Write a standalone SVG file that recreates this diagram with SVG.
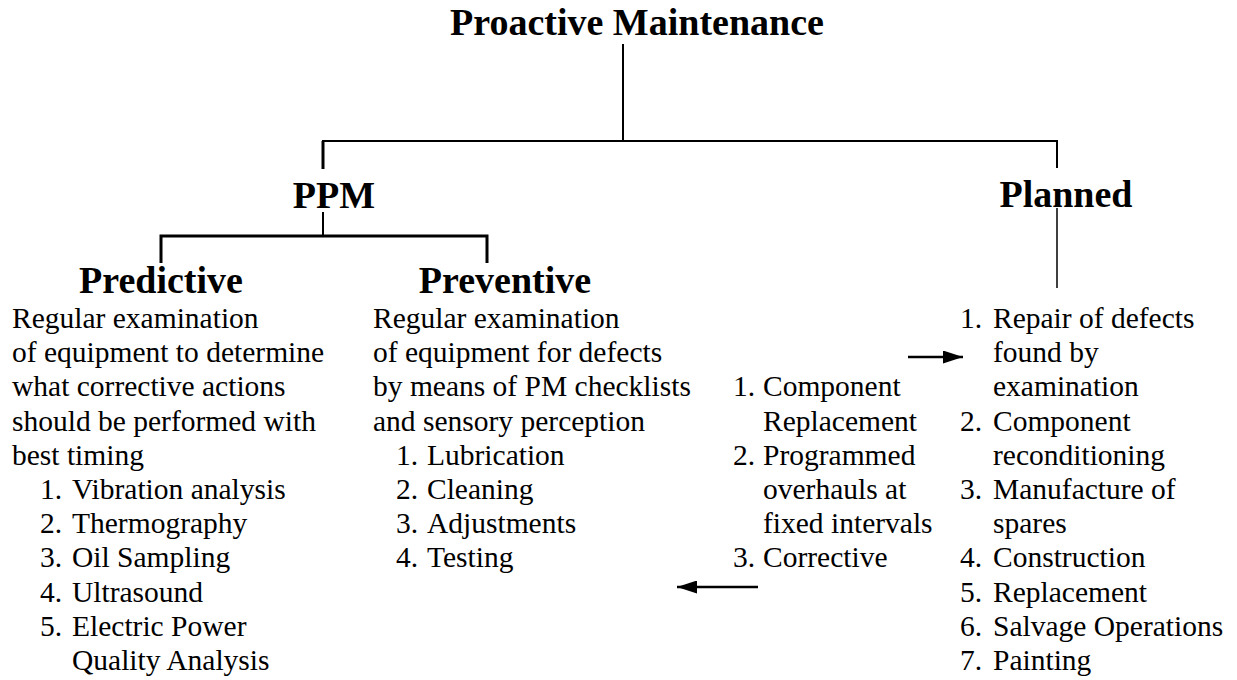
<svg xmlns="http://www.w3.org/2000/svg" width="1237" height="680" viewBox="0 0 1237 680">
<style>
.h{font-family:"Liberation Serif","Times New Roman",serif;font-weight:bold;font-size:38px;fill:#000}
.t{font-family:"Liberation Serif","Times New Roman",serif;font-size:29.5px;fill:#000}
.ln{stroke:#000;fill:none}
</style>
<defs>
<marker id="ah" viewBox="0 0 20 13" refX="20" refY="6.5" markerWidth="20" markerHeight="13" markerUnits="userSpaceOnUse" orient="auto">
<path d="M0,0 L20,6.5 L0,13 z" fill="#000"/>
</marker>
</defs>
<rect width="1237" height="680" fill="#fff"/>
<g id="connectors">
<line class="ln" x1="623" y1="44" x2="623" y2="141" stroke-width="2"/>
<line class="ln" x1="322" y1="141" x2="1058" y2="141" stroke-width="2"/>
<line class="ln" x1="323" y1="141" x2="323" y2="169" stroke-width="3"/>
<line class="ln" x1="1057" y1="141" x2="1057" y2="168" stroke-width="2"/>
<line class="ln" x1="323" y1="212" x2="323" y2="236" stroke-width="2"/>
<path class="ln" d="M161,263 V236 H487 V263" stroke-width="3"/>
<line class="ln" x1="1057" y1="208" x2="1057" y2="288" stroke-width="1.5"/>
<line class="ln" x1="908" y1="357" x2="963" y2="357" stroke-width="2.5" marker-end="url(#ah)"/>
<line class="ln" x1="758" y1="587" x2="677" y2="587" stroke-width="2.5" marker-end="url(#ah)"/>
</g>
<g id="proactive"><text class="h" x="637" y="35" text-anchor="middle" font-size="37">Proactive Maintenance</text></g>
<g id="ppm"><text class="h" x="334" y="208" text-anchor="middle">PPM</text></g>
<g id="planned"><text class="h" x="1066" y="207" text-anchor="middle">Planned</text></g>
<g id="predictive">
<text class="h" x="161" y="293" text-anchor="middle">Predictive</text>
<text class="t" x="12" y="328">Regular examination</text>
<text class="t" x="12" y="362">of equipment to determine</text>
<text class="t" x="12" y="396">what corrective actions</text>
<text class="t" x="12" y="431">should be performed with</text>
<text class="t" x="12" y="465">best timing</text>
<text class="t" x="40" y="499">1.</text><text class="t" x="72" y="499">Vibration analysis</text>
<text class="t" x="40" y="533">2.</text><text class="t" x="72" y="533">Thermography</text>
<text class="t" x="40" y="567">3.</text><text class="t" x="72" y="567">Oil Sampling</text>
<text class="t" x="40" y="602">4.</text><text class="t" x="72" y="602">Ultrasound</text>
<text class="t" x="40" y="636">5.</text><text class="t" x="72" y="636">Electric Power</text>
<text class="t" x="72" y="670">Quality Analysis</text>
</g>
<g id="preventive">
<text class="h" x="505" y="293" text-anchor="middle">Preventive</text>
<text class="t" x="373" y="328">Regular examination</text>
<text class="t" x="373" y="362">of equipment for defects</text>
<text class="t" x="373" y="396">by means of PM checklists</text>
<text class="t" x="373" y="431">and sensory perception</text>
<text class="t" x="396" y="465">1.</text><text class="t" x="427" y="465">Lubrication</text>
<text class="t" x="396" y="499">2.</text><text class="t" x="427" y="499">Cleaning</text>
<text class="t" x="396" y="533">3.</text><text class="t" x="427" y="533">Adjustments</text>
<text class="t" x="396" y="567">4.</text><text class="t" x="427" y="567">Testing</text>
</g>
<g id="corrective">
<text class="t" x="733" y="396">1.</text><text class="t" x="763" y="396">Component</text>
<text class="t" x="763" y="431">Replacement</text>
<text class="t" x="733" y="465">2.</text><text class="t" x="763" y="465">Programmed</text>
<text class="t" x="763" y="499">overhauls at</text>
<text class="t" x="763" y="533">fixed intervals</text>
<text class="t" x="733" y="567">3.</text><text class="t" x="763" y="567">Corrective</text>
</g>
<g id="planned-list">
<text class="t" x="960" y="328">1.</text><text class="t" x="993" y="328">Repair of defects</text>
<text class="t" x="993" y="362">found by</text>
<text class="t" x="993" y="396">examination</text>
<text class="t" x="960" y="431">2.</text><text class="t" x="993" y="431">Component</text>
<text class="t" x="993" y="465">reconditioning</text>
<text class="t" x="960" y="499">3.</text><text class="t" x="993" y="499">Manufacture of</text>
<text class="t" x="993" y="533">spares</text>
<text class="t" x="960" y="567">4.</text><text class="t" x="993" y="567">Construction</text>
<text class="t" x="960" y="602">5.</text><text class="t" x="993" y="602">Replacement</text>
<text class="t" x="960" y="636">6.</text><text class="t" x="993" y="636">Salvage Operations</text>
<text class="t" x="960" y="670">7.</text><text class="t" x="993" y="670">Painting</text>
</g>
</svg>
